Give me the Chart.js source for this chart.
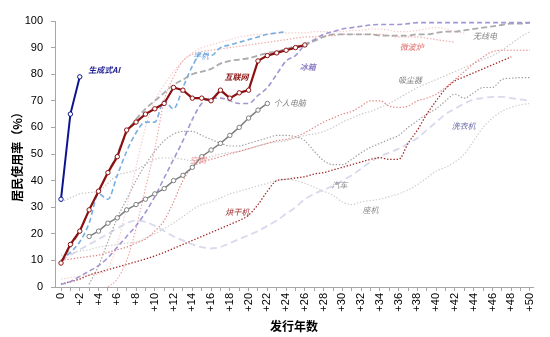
<!DOCTYPE html>
<html><head><meta charset="utf-8">
<script src="https://cdn.jsdelivr.net/npm/chart.js@4/dist/chart.umd.min.js"></script>
<style>html,body{margin:0;padding:0;background:#fff}#wrap{width:550px;height:337px}</style>
</head><body><div id="wrap"><canvas id="c" width="550" height="337"></canvas></div>
<script>
// ---- data (values by year since launch, index = year; null = not yet) ----
const genAI = [33, 65, 79];
const internet = [9, 16, 21, 29, 36, 43, 49, 59, 62, 65,
  67, 69, 75, 74, 71, 71, 70, 74, 71, 73,
  74, 85, 87, 88, 89, 90, 91];
const pc = [null, null, null, 19, 21, 24, 26, 29, 31, 33,
  35, 37, 40, 42, 45, 49, 51.5, 54, 57, 60,
  63.5, 66.5, 69];
const mobile = [10, 13, 17, 24, 35, 33, 42, 51, 58, 62,
  62, 70, 67, 75, 83, 88, 87, 90, 91, 92,
  93, 94, 95, 95.5, 96];
const fridge = [1, 2, 4, 6, 8, 11, 15, 19, 23, 28,
  34, 41, 48, 55, 63, 69, 71, 71, 70, 69,
  69, 72, 75, 80, 85, 87, 91, 93, 95, 96,
  97, 97.5, 98, 98.5, 98.7, 98.7, 98.7, 99, 99.4, 99.4,
  99.4, 99.4, 99.4, 99.4, 99.4, 99.4, 99.4, 99.4, 99.4, 99.4, 99.4];
const radio = [9, 15, 21, 29, 36, 43, 50, 58, 63, 67,
  70, 73, 76, 78, 80, 81, 82, 84, 85, 85.5,
  86, 87, 88, 88.5, 89.5, 90.5, 91, 92.5, 94, 95,
  95, 95, 95, 95, 94.5, 94.5, 94.5, 94.5, 95, 95,
  95.5, 96, 96, 96.5, 97, 97.5, 98, 98.5, 99, 99, 99.4];
const washer = [10, 12, 14, 16, 18, 20, 22, 24, 25, 24.5,
  23, 21, 19, 17.5, 16, 15, 14.5, 15, 16.5, 18,
  19.5, 21, 23, 25, 27.5, 30, 33, 35, 36.5, 38,
  40, 42, 44.5, 47, 49, 50.5, 52, 54, 56, 59,
  62, 65, 67, 69, 70.5, 71, 71.5, 71.5, 71, 70.5, 70];
const aircon = [10, 10.5, 11, 11.5, 12, 13, 14, 15, 16.5, 18,
  21, 25, 32, 40, 45, 47, 48, 49, 50, 51,
  52, 53, 54, 55, 55.5, 56.5, 58, 60, 62, 63.5,
  65, 66, 68, 70, 70, 68, 67.5, 68, 70, 71,
  72.5, 75, 78, 81, 84, 86.5, 88.5, 89, 89, 89, 89];
const dryer = [1, 2, 3, 4.5, 5.5, 6.5, 7.5, 8.5, 9.5, 10.5,
  11.7, 13, 14.5, 16, 17.5, 19, 20.5, 22, 23.5, 25,
  27, 31, 36, 40, 40.5, 41, 41.5, 42.5, 43, 44,
  45, 46, 47, 48, 48.6, 48, 48, 54, 59, 65,
  70, 74.5, 77.5, 79, 80.5, 82, 83.5, 85, 86.5];
const vacuum = [32, 33.5, 35, 35.5, 36, 39, 42, 43, 44, 46,
  48, 48.5, 48.5, 48, 47.5, 48, 49, 50, 50.5, 51,
  52, 53, 54, 54.5, 55, 56, 57, 57.5, 58.5, 60,
  62, 63.5, 65, 66, 67.5, 69, 71, 73, 75, 76.5,
  78, 79.5, 81, 82.5, 84, 85.5, 87, 89, 91.5, 94, 96];
const car = [null, null, null, 1, 8, 17, 26, 33, 40, 46,
  51, 55, 57.5, 58.5, 58.5, 57, 55.5, 54, 53, 53,
  54, 55, 56, 57, 57, 56.5, 55, 51, 47.5, 46,
  46, 48, 50.5, 52.5, 54, 55.5, 57, 60, 62.5, 65,
  67, 70, 72.5, 71, 73, 75, 75, 78, 78.5, 78.7, 78.7];
const landline = [12, 12.5, 13.5, 14, 15, 15.5, 16, 16.5, 17, 18.5,
  20, 22, 24, 26.5, 29, 31, 32, 33.5, 35, 36,
  37, 38, 39, 40, 40.5, 40, 39, 37.5, 36, 34.5,
  32, 31, 32, 32.5, 33, 34, 35, 36.5, 38.5, 41,
  43.6, 45, 47, 50, 55, 60, 63.5, 66, 67.5, 68.5, 69];
const tvPink = [3, 3.5, 4, 4.5, 5, 7, 16, 30, 45, 60,
  70, 76, 81, 85, 88, 90, 91, 92, 93, 94,
  94.5, 95, 95, 95.5, 95.5, 95.5, 95.5, 96, 96, 96,
  96, 96.5, 96.5, 97, 97, 96.5, 96, 96, 96.5, 97,
  97.5, 97, 96, 95.5];
const microwave = [null, null, null, null, null, 0, 3, 10, 22, 37,
  52, 70, 79, 85, 87.5, 88.5, 89, 89.5, 90, 90.5,
  91, 91.5, 92, 92.5, 93, 93.5, 94, 94, 94.5, 94.5,
  95, 95, 95, 95, 95, 94.5, 94, 94, 94, 93.5,
  93, 92.5, 92];

const yTicks = [0, 10, 20, 30, 40, 50, 60, 70, 80, 90, 100];
const xMaxYear = 50;

// series name labels, placed in data coordinates
const seriesLabels = [
  {text: '生成式AI', x: 4.6, y: 81.6, color: '#1b1b8f', bold: true},
  {text: '手机', x: 14.9, y: 86.8, color: '#6fa8dc', bold: false},
  {text: '互联网', x: 18.7, y: 78.9, color: '#8b1010', bold: true},
  {text: '冰箱', x: 26.3, y: 82.7, color: '#8e7cc3', bold: true},
  {text: '个人电脑', x: 24.4, y: 69.2, color: '#7f7f7f', bold: false},
  {text: '微波炉', x: 37.4, y: 90.2, color: '#e06666', bold: false},
  {text: '无线电', x: 45.2, y: 94.4, color: '#7f7f7f', bold: false},
  {text: '吸尘器', x: 37.2, y: 77.8, color: '#7f7f7f', bold: false},
  {text: '洗衣机', x: 42.9, y: 60.5, color: '#6b6ba8', bold: false},
  {text: '汽车', x: 29.7, y: 38.3, color: '#8a8a8a', bold: false},
  {text: '空调', x: 14.6, y: 47.7, color: '#e89090', bold: false},
  {text: '烘干机', x: 18.8, y: 28.2, color: '#a83232', bold: false},
  {text: '座机', x: 33.0, y: 28.9, color: '#8a8a8a', bold: false}
];

// ---- chart ----
const pts = arr => arr.map((v, i) => ({x: i, y: v}));
const dotted = [1.4, 1.8];
function ds(arr, color, width, dash, extra) {
  return Object.assign({data: pts(arr), borderColor: color, borderWidth: width,
    borderDash: dash, pointRadius: 0, tension: 0.4, cubicInterpolationMode: 'monotone',
    fill: false, spanGaps: false}, extra || {});
}
const markerOpts = c => ({tension: 0, cubicInterpolationMode: 'default', pointRadius: 2.2,
  pointBackgroundColor: '#fff', pointBorderColor: c, pointBorderWidth: 1});

const labelPlugin = {
  id: 'seriesLabels',
  afterDatasetsDraw(chart) {
    const {ctx, scales: {x, y}} = chart;
    ctx.save();
    ctx.textAlign = 'center';
    ctx.textBaseline = 'middle';
    seriesLabels.forEach(l => {
      ctx.font = 'italic ' + (l.bold ? 'bold ' : '') + '8px "Noto Sans CJK SC", sans-serif';
      ctx.fillStyle = l.color;
      ctx.fillText(l.text, x.getPixelForValue(l.x), y.getPixelForValue(l.y));
    });
    ctx.restore();
  }
};

new Chart(document.getElementById('c'), {
  type: 'line',
  data: {datasets: [
    ds(genAI, '#0d1490', 2, [], markerOpts('#0d1490')),
    ds(internet, '#8b1010', 2.2, [], markerOpts('#8b1010')),
    ds(pc, '#7f7f7f', 1.5, [], markerOpts('#7f7f7f')),
    ds(mobile, '#78aee0', 1.6, [5, 3]),
    ds(fridge, '#a396d2', 1.6, [5, 3]),
    ds(radio, '#ababab', 1.8, [6, 3]),
    ds(microwave, '#efa8a8', 1.2, dotted),
    ds(tvPink, '#f6cccc', 1.2, dotted),
    ds(aircon, '#e38484', 1.2, dotted),
    ds(dryer, '#a52a2a', 1.3, dotted),
    ds(car, '#a0a0a0', 1.2, dotted),
    ds(vacuum, '#c8c8c8', 1.2, dotted),
    ds(landline, '#cfcfcf', 1.2, dotted),
    ds(washer, '#d9d9ee', 1.8, [7, 4])
  ]},
  options: {
    responsive: false,
    animation: false,
    layout: {padding: {top: 21, right: 17, left: 0, bottom: 0}},
    plugins: {legend: {display: false}, tooltip: {enabled: false}},
    scales: {
      x: {
        type: 'linear', min: -0.64, max: 50.32,
        afterBuildTicks: axis => { const t = []; for (let i = 0; i <= xMaxYear; i++) t.push({value: i}); axis.ticks = t; },
        afterFit: s => { s.height = 50; },
        ticks: {autoSkip: false, minRotation: 90, maxRotation: 90, padding: 2,
          color: '#000', font: {family: 'Liberation Sans, Arial', size: 11},
          callback: v => (v % 2 === 0 ? (v === 0 ? '0' : '+' + v) : '')},
        grid: {drawOnChartArea: false, drawTicks: true, tickLength: 4, color: '#a6a6a6'},
        border: {display: true, color: '#a6a6a6', width: 1},
        title: {display: true, text: '发行年数', color: '#000', padding: {top: 0, bottom: 3},
          font: {family: '"Noto Sans CJK SC"', size: 12, weight: 'bold'}}
      },
      y: {
        min: 0, max: 100,
        afterBuildTicks: axis => { axis.ticks = yTicks.map(v => ({value: v})); },
        afterFit: s => { s.width = 55; },
        ticks: {padding: 8, color: '#000', font: {family: 'Liberation Sans, Arial', size: 11}},
        grid: {drawOnChartArea: false, drawTicks: true, tickLength: 4, color: '#a6a6a6'},
        border: {display: true, color: '#a6a6a6', width: 1},
        title: {display: true, text: '居民使用率（%）', color: '#000', padding: {top: 10, bottom: 0},
          font: {family: '"Noto Sans CJK SC"', size: 12, weight: 'bold'}}
      }
    }
  },
  plugins: [labelPlugin]
});
</script>
</body></html>
